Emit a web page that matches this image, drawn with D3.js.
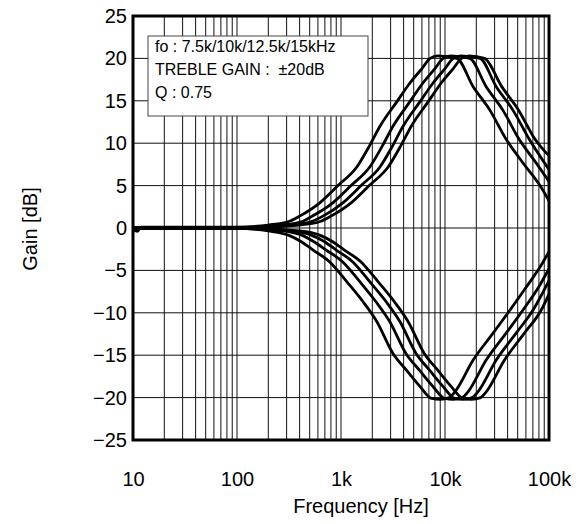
<!DOCTYPE html>
<html>
<head>
<meta charset="utf-8">
<script src="https://cdn.jsdelivr.net/npm/d3@7"></script>
<style>
  body { margin: 0; background: #fff; }
  text { font-family: "Liberation Sans", Arial, sans-serif; }
</style>
</head>
<body>
<svg id="chart" width="588" height="524"></svg>
<script>
// [frequency Hz, gain dB]
const boost7k5 = [[10,-0.1],[11,-0.4],[12,0.1],[100,0.1],[200,0.35],[320,0.8],[400,1.4],[630,3.0],[935,5.0],[1420,7.2],[1900,9.8],[2370,12.0],[3450,14.9],[4600,17.1],[6000,18.8],[7200,20.0],[8500,20.3],[13000,20.0],[18600,16.7],[27000,13.9],[39000,10.4],[56000,7.7],[82000,5.0],[100000,3.2]]
const boost10k = [[10,0],[100,0.05],[270,0.35],[430,0.8],[530,1.4],[840,3.0],[1250,5.0],[1890,7.2],[2530,9.8],[3160,12.0],[4600,14.9],[6130,17.1],[8000,18.8],[9600,20.0],[11300,20.3],[17300,20.0],[24800,16.7],[36000,13.9],[52000,10.4],[75000,7.7],[100000,5.5]]
const boost12k5 = [[10,0],[100,0],[330,0.35],[530,0.8],[670,1.4],[1050,3.0],[1560,5.0],[2370,7.2],[3170,9.8],[3950,12.0],[5750,14.9],[7670,17.1],[10000,18.8],[12000,20.0],[14200,20.3],[21700,20.0],[31000,16.7],[45000,13.9],[65000,10.4],[100000,6.9]]
const boost15k = [[10,0],[100,0],[400,0.35],[640,0.8],[800,1.4],[1260,3.0],[1870,5.0],[2840,7.2],[3800,9.8],[4740,12.0],[6900,14.9],[9200,17.1],[12000,18.8],[14400,20.0],[17000,20.3],[24000,20.0],[35000,16.7],[51000,13.9],[74000,10.4],[100000,8.5]]

const cut7k5 = [[10,0],[100,-0.05],[200,-0.35],[320,-0.9],[400,-1.5],[540,-2.6],[780,-4.0],[1130,-6.3],[1630,-8.7],[2200,-11.0],[3160,-14.8],[4280,-16.8],[5760,-18.7],[7450,-20.1],[9000,-20.2],[11000,-20.0],[12500,-19.3],[18600,-15.6],[29000,-12.4],[42000,-9.7],[61000,-6.9],[82000,-4.6],[100000,-2.8]]
const cut10k = [[10,0],[100,-0.05],[270,-0.35],[430,-0.9],[530,-1.5],[720,-2.6],[1040,-4.0],[1510,-6.3],[2170,-8.7],[2930,-11.0],[4210,-14.8],[5700,-16.8],[7680,-18.7],[9930,-20.1],[12000,-20.2],[14700,-20.0],[16700,-19.3],[24800,-15.6],[38700,-12.4],[56000,-9.7],[81000,-6.8],[100000,-4.8]]
const cut12k5 = [[10,0],[100,0],[330,-0.35],[530,-0.9],[670,-1.5],[900,-2.6],[1300,-4.0],[1880,-6.3],[2720,-8.7],[3670,-11.0],[5270,-14.8],[7130,-16.8],[9600,-18.7],[12400,-20.1],[15000,-20.2],[18300,-20.0],[20800,-19.3],[31000,-15.6],[48300,-12.4],[70000,-9.7],[100000,-6.2]]
const cut15k = [[10,0],[100,0],[400,-0.35],[640,-0.9],[800,-1.5],[1080,-2.6],[1560,-4.0],[2260,-6.3],[3260,-8.7],[4400,-11.0],[6320,-14.8],[8560,-16.8],[11500,-18.7],[14900,-20.1],[18000,-20.2],[22000,-20.0],[25000,-19.3],[37200,-15.6],[58000,-12.4],[84000,-9.7],[100000,-7.8]]

const xTicks = [10, 100, 1000, 10000, 100000]
const xLabels = ["10", "100", "1k", "10k", "100k"]
const yTicks = [-25, -20, -15, -10, -5, 0, 5, 10, 15, 20, 25]
const legendLines = ["fo : 7.5k/10k/12.5k/15kHz", "TREBLE GAIN :  \u00b120dB", "Q : 0.75"]

const plotLeft = 133, plotRight = 549, plotTop = 16, plotBottom = 440

const svg = d3.select('#chart')

const x = d3.scaleLog()
    .domain([10, 100000])
    .range([plotLeft, plotRight])

const y = d3.scaleLinear()
    .domain([-25, 25])
    .range([plotBottom, plotTop])

// grid: 1..9 in every decade
const minor = []
xTicks.slice(0, -1).forEach(d => {
    for (let k = 2; k <= 9; k++) minor.push(d * k)
})

const grid = svg.append('g')
grid.selectAll('line.v')
    .data(minor.concat(xTicks))
    .enter()
    .append('line')
    .attr('x1', d => x(d)).attr('x2', d => x(d))
    .attr('y1', plotTop).attr('y2', plotBottom)
    .attr('stroke', '#111')
    .attr('stroke-width', 1)
grid.selectAll('line.h')
    .data(yTicks)
    .enter()
    .append('line')
    .attr('x1', plotLeft).attr('x2', plotRight)
    .attr('y1', d => y(d)).attr('y2', d => y(d))
    .attr('stroke', '#111')
    .attr('stroke-width', 1)

// legend box
const lg = svg.append('g')
lg.append('rect')
    .attr('x', 148).attr('y', 36)
    .attr('width', 220).attr('height', 80)
    .attr('fill', '#fff')
    .attr('stroke', '#444')
    .attr('stroke-width', 1)
lg.selectAll('text')
    .data(legendLines)
    .enter()
    .append('text')
    .attr('x', 155)
    .attr('y', (d, i) => 52 + i * 22.8)
    .attr('font-size', 16)
    .style('white-space', 'pre')
    .text(d => d)

// curves
const line = d3.line()
    .x(d => x(d[0]))
    .y(d => y(d[1]))
    .curve(d3.curveMonotoneX)

svg.append('g')
    .selectAll('path')
    .data([boost7k5, boost10k, boost12k5, boost15k, cut7k5, cut10k, cut12k5, cut15k])
    .enter()
    .append('path')
    .attr('d', line)
    .attr('fill', 'none')
    .attr('stroke', '#000')
    .attr('stroke-width', 2.8)
    .attr('stroke-linejoin', 'round')

// frame
svg.append('rect')
    .attr('x', plotLeft).attr('y', plotTop)
    .attr('width', plotRight - plotLeft).attr('height', plotBottom - plotTop)
    .attr('fill', 'none')
    .attr('stroke', '#000')
    .attr('stroke-width', 3)

// axes (labels only)
const xAxis = d3.axisBottom(x)
    .tickValues(xTicks)
    .tickFormat((d, i) => xLabels[i])
    .tickSize(0)
    .tickPadding(32)
const gx = svg.append('g')
    .attr('transform', 'translate(0,' + plotBottom + ')')
    .call(xAxis)
const yAxis = d3.axisLeft(y)
    .tickValues(yTicks)
    .tickSize(0)
    .tickPadding(6)
const gy = svg.append('g')
    .attr('transform', 'translate(' + plotLeft + ',0)')
    .call(yAxis)
;[gx, gy].forEach(g => {
    g.select('.domain').remove()
    g.selectAll('text')
        .attr('font-size', 20)
        .attr('font-family', '"Liberation Sans", Arial, sans-serif')
        .attr('fill', '#000')
})

svg.append('text')
    .attr('x', 361).attr('y', 513)
    .attr('text-anchor', 'middle')
    .attr('font-size', 20)
    .text('Frequency [Hz]')

svg.append('text')
    .attr('transform', 'translate(37,229) rotate(-90)')
    .attr('text-anchor', 'middle')
    .attr('font-size', 20)
    .text('Gain [dB]')
</script>
</body>
</html>
